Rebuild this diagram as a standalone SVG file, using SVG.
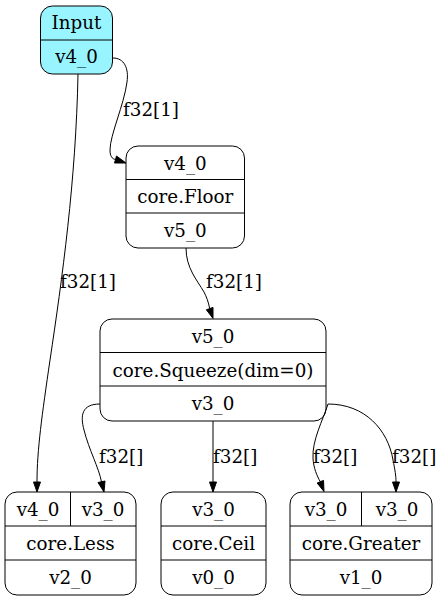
<svg xmlns="http://www.w3.org/2000/svg" width="444" height="601" viewBox="0 0 444 601">
  <defs>
    <style>
      .box { fill: #ffffff; stroke: #000000; stroke-width: 1; }
      .input { fill: #98f5ff; }
      .sep { stroke: #000000; stroke-width: 1; fill: none; }
      .lbl { font-family: "DejaVu Serif", serif; font-size: 18.3px; fill: #000000; text-anchor: middle; }
      .elbl { font-family: "DejaVu Serif", serif; font-size: 18.3px; fill: #000000; }
      .edge { fill: none; stroke: #000000; stroke-width: 1; }
      .head { fill: #000000; stroke: #000000; stroke-width: 1; }
    </style>
  </defs>
  <rect width="444" height="601" fill="#ffffff"/>

  <!-- operator nodes -->
  <g id="node_input">
    <rect class="box input" x="40.5" y="6" width="72" height="68" rx="12" ry="12"/>
    <line class="sep" x1="40.5" y1="40" x2="112.5" y2="40"/>
    <text class="lbl" x="76.5" y="29">Input</text>
    <text class="lbl" x="76.5" y="63">v4_0</text>
  </g>

  <g id="node_floor">
    <rect class="box" x="126" y="146" width="118.5" height="102" rx="12" ry="12"/>
    <line class="sep" x1="126" y1="179.5" x2="244.5" y2="179.5"/>
    <line class="sep" x1="126" y1="213" x2="244.5" y2="213"/>
    <text class="lbl" x="185.3" y="169.5">v4_0</text>
    <text class="lbl" x="185.3" y="203">core.Floor</text>
    <text class="lbl" x="185.3" y="236.5">v5_0</text>
  </g>

  <g id="node_squeeze">
    <rect class="box" x="100" y="319" width="226" height="102" rx="12" ry="12"/>
    <line class="sep" x1="100" y1="352.5" x2="326" y2="352.5"/>
    <line class="sep" x1="100" y1="386" x2="326" y2="386"/>
    <text class="lbl" x="213" y="342.5">v5_0</text>
    <text class="lbl" x="213" y="377">core.Squeeze(dim=0)</text>
    <text class="lbl" x="213" y="410">v3_0</text>
  </g>

  <g id="node_less">
    <rect class="box" x="5" y="492" width="131" height="103" rx="12" ry="12"/>
    <line class="sep" x1="70.5" y1="492" x2="70.5" y2="526"/>
    <line class="sep" x1="5" y1="526" x2="136" y2="526"/>
    <line class="sep" x1="5" y1="560" x2="136" y2="560"/>
    <text class="lbl" x="38" y="515.5">v4_0</text>
    <text class="lbl" x="103" y="515.5">v3_0</text>
    <text class="lbl" x="70.5" y="549.5">core.Less</text>
    <text class="lbl" x="70.5" y="583.5">v2_0</text>
  </g>

  <g id="node_ceil">
    <rect class="box" x="161" y="492" width="105" height="103" rx="12" ry="12"/>
    <line class="sep" x1="161" y1="526" x2="266" y2="526"/>
    <line class="sep" x1="161" y1="560" x2="266" y2="560"/>
    <text class="lbl" x="213.5" y="515.5">v3_0</text>
    <text class="lbl" x="213.5" y="549.5">core.Ceil</text>
    <text class="lbl" x="213.5" y="583.5">v0_0</text>
  </g>

  <g id="node_greater">
    <rect class="box" x="290" y="492" width="142" height="103" rx="12" ry="12"/>
    <line class="sep" x1="361.5" y1="492" x2="361.5" y2="526"/>
    <line class="sep" x1="290" y1="526" x2="432" y2="526"/>
    <line class="sep" x1="290" y1="560" x2="432" y2="560"/>
    <text class="lbl" x="326" y="515.5">v3_0</text>
    <text class="lbl" x="397" y="515.5">v3_0</text>
    <text class="lbl" x="361" y="549.5">core.Greater</text>
    <text class="lbl" x="361" y="583.5">v1_0</text>
  </g>

  <!-- connectors -->
  <g id="edges">
    <!-- Input -> Less (v4_0) -->
    <path class="edge" d="M78,74 C76,180 62,280 50,360 C42,415 37,450 37,482"/>
    <polygon class="head" points="33.5,482 37,492 40.5,482"/>
    <text class="elbl" x="60" y="288">f32[1]</text>

    <!-- Input -> Floor -->
    <path class="edge" d="M113,58 C124,58 129,68 127,82 C124,105 110,135 110,150 C110,156 112,159 115.5,159.5"/>
    <polygon class="head" points="116.5,156 126,163 114.5,163"/>
    <text class="elbl" x="123" y="116">f32[1]</text>

    <!-- Floor -> Squeeze -->
    <path class="edge" d="M186,248 C186,268 197,280 204,292 C206.5,297 208.5,302 209.7,308.6"/>
    <polygon class="head" points="206.4,309.8 213,318.5 213,307.4"/>
    <text class="elbl" x="206" y="288">f32[1]</text>

    <!-- Squeeze -> Less (v3_0) -->
    <path class="edge" d="M100,404 C82,404 80,415 84,430 C89,450 99,468 101.5,482"/>
    <polygon class="head" points="98,482.5 104,492 105,481"/>
    <text class="elbl" x="99" y="463">f32[]</text>

    <!-- Squeeze -> Ceil -->
    <path class="edge" d="M213,421 L213,482"/>
    <polygon class="head" points="209.5,482 213,492 216.5,482"/>
    <text class="elbl" x="213" y="463">f32[]</text>

    <!-- Squeeze -> Greater (first v3_0) -->
    <path class="edge" d="M328,404 C323,420 312,440 313,458 C313.5,468 317,476 320.3,481.7"/>
    <polygon class="head" points="317.1,483 324,491.5 323.5,480.4"/>
    <text class="elbl" x="313" y="463">f32[]</text>

    <!-- Squeeze -> Greater (second v3_0) -->
    <path class="edge" d="M328,404 C365,404 388,430 393,460 C395,470 396,476 396,482"/>
    <polygon class="head" points="392.5,482 396,492 399.5,482"/>
    <text class="elbl" x="392" y="463">f32[]</text>
  </g>
</svg>
